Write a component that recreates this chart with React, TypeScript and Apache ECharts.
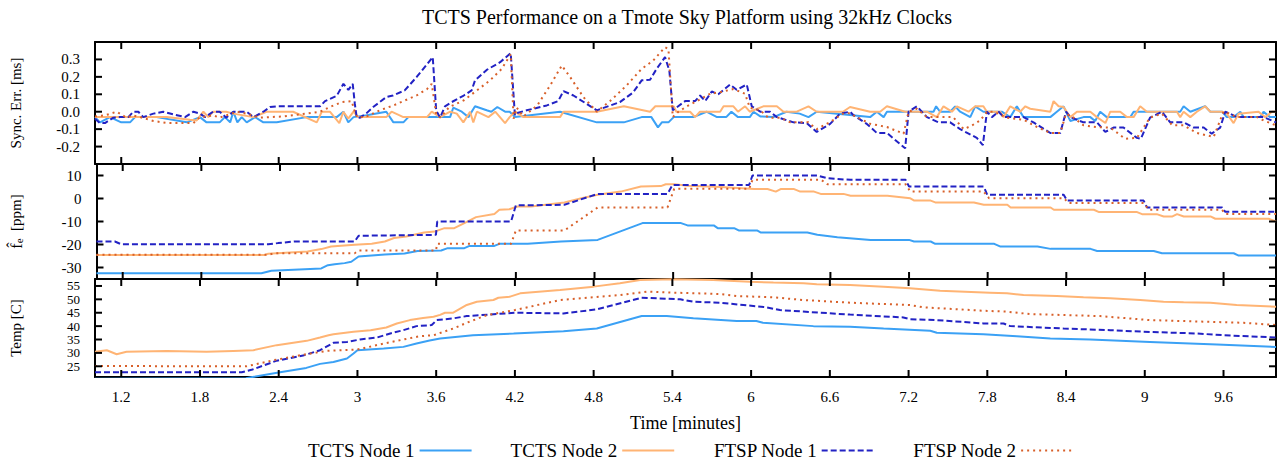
import React, { useEffect, useRef } from "react";
import * as echarts from "echarts";

type P = [number, number];

const xTicks = [1.2, 1.8, 2.4, 3, 3.6, 4.2, 4.8, 5.4, 6, 6.6, 7.2, 7.8, 8.4, 9, 9.6];
const syncTicks = [-0.2, -0.1, 0, 0.1, 0.2, 0.3];
const ppmTicks = [-30, -20, -10, 0, 10];
const tempTicks = [25, 30, 35, 40, 45, 50, 55];

const seriesNames = ["TCTS Node 1", "TCTS Node 2", "FTSP Node 1", "FTSP Node 2"];

const syncTcts1: P[] = [[1.0,-0.031],[1.038,-0.061],[1.114,-0.031],[1.2,-0.061],[1.267,-0.061],[1.305,-0.031],[1.47,-0.031],[1.7,-0.061],[1.8,-0.031],[1.85,-0.061],[1.95,-0.061],[1.99,-0.031],[2.03,-0.061],[2.054,0],[2.085,-0.061],[2.118,-0.031],[2.156,-0.061],[2.22,-0.031],[2.283,-0.061],[2.385,-0.061],[2.613,-0.031],[2.842,-0.031],[2.893,0],[2.93,-0.061],[2.97,-0.031],[3.07,-0.02],[3.22,0],[3.274,-0.061],[3.35,-0.061],[3.388,-0.031],[3.706,-0.031],[3.73,0.023],[3.795,0],[3.846,-0.031],[3.896,0.031],[3.985,0.008],[4.02,0],[4.066,0.027],[4.125,0],[4.16,0],[4.2,-0.031],[4.544,0],[4.824,-0.061],[5.03,-0.061],[5.166,-0.031],[5.24,-0.031],[5.29,-0.09],[5.32,-0.061],[5.37,-0.061],[5.41,-0.031],[5.56,-0.031],[5.66,0],[5.74,-0.031],[5.81,-0.031],[5.85,0],[5.9,-0.031],[5.99,-0.031],[6.018,0],[6.07,-0.027],[6.17,-0.031],[6.27,0],[6.37,-0.011],[6.437,-0.031],[6.5,0],[6.907,-0.031],[6.958,0],[7.01,-0.031],[7.035,0],[7.39,0],[7.41,0.031],[7.44,0],[7.517,0],[7.555,0.031],[7.593,0],[7.67,-0.031],[7.708,0.031],[7.77,0],[7.91,0],[7.975,-0.031],[8.025,0.031],[8.076,-0.031],[8.28,-0.031],[8.33,0],[8.381,0.031],[8.432,-0.053],[8.533,-0.031],[8.585,-0.031],[8.622,-0.053],[8.66,0],[8.71,-0.031],[8.89,-0.031],[8.915,0],[9.27,0],[9.296,0.031],[9.347,0],[9.46,0.031],[9.5,0],[9.59,0],[9.625,-0.031],[9.677,-0.031],[9.728,0],[9.753,-0.031],[9.88,-0.031],[9.905,0],[9.955,-0.031],[10.0,-0.031]];
const syncTcts2: P[] = [[1.0,-0.031],[1.546,-0.031],[1.724,-0.046],[1.775,-0.05],[1.826,0],[1.864,-0.031],[1.9,0],[2.0,0],[2.054,-0.011],[2.207,-0.031],[2.308,0],[2.51,0],[2.69,-0.061],[2.728,0],[2.79,0],[2.862,-0.065],[2.893,0],[2.93,-0.04],[2.97,0],[3.006,-0.031],[3.22,-0.031],[3.26,0],[3.35,-0.031],[3.53,-0.031],[3.566,0],[3.63,-0.031],[3.706,0],[3.757,-0.011],[3.807,-0.061],[3.858,0],[3.883,-0.061],[3.91,0],[3.998,-0.031],[4.05,0],[4.125,-0.065],[4.16,-0.031],[4.2,0],[4.265,-0.031],[4.544,-0.031],[4.57,0],[4.824,0],[5.03,0.031],[5.23,0],[5.27,0.031],[5.41,0.031],[5.43,0],[5.535,0],[5.573,-0.031],[5.61,0],[5.764,0],[5.79,0.031],[5.865,0.031],[5.9,0],[5.954,0.031],[5.99,0],[6.093,0.031],[6.196,0.031],[6.247,0],[6.348,0],[6.437,0.031],[6.5,0],[6.7,0],[6.754,0.027],[6.907,0],[6.983,0],[7.035,0.031],[7.174,0],[7.34,0],[7.415,-0.031],[7.466,0.031],[7.53,0],[7.568,0.031],[7.657,0],[7.708,0.031],[7.77,0.031],[7.797,0],[7.898,0],[7.924,-0.031],[7.975,0.031],[8.05,0],[8.09,0.031],[8.127,0.017],[8.28,0],[8.305,0.061],[8.343,0.031],[8.381,0.027],[8.432,-0.031],[8.483,0],[8.585,0],[8.635,-0.031],[8.7,-0.065],[8.737,0],[8.813,0],[8.864,-0.031],[8.915,-0.031],[8.965,0.031],[9.016,0],[9.245,0],[9.27,-0.031],[9.296,0],[9.347,-0.031],[9.397,0],[9.46,0.031],[9.5,0],[9.59,0],[9.625,-0.011],[9.677,-0.065],[9.715,-0.011],[9.867,0],[9.918,-0.031],[9.97,0],[10.0,0]];
const syncFtsp1: P[] = [[1.0,-0.04],[1.038,-0.065],[1.076,-0.065],[1.14,-0.034],[1.19,-0.031],[1.254,-0.031],[1.292,0],[1.33,0],[1.368,-0.031],[1.445,-0.011],[1.52,0],[1.597,-0.015],[1.686,-0.031],[1.75,0],[1.8,-0.011],[1.84,-0.031],[1.9,0],[1.95,0],[2.0,-0.034],[2.054,0],[2.156,0],[2.207,-0.031],[2.283,0],[2.334,0.027],[2.385,0.031],[2.715,0.031],[2.753,0.061],[2.842,0.091],[2.893,0.16],[2.931,0.125],[2.964,0.16],[2.98,0.046],[2.994,-0.031],[3.02,-0.034],[3.07,-0.008],[3.12,0.027],[3.22,0.084],[3.27,0.093],[3.36,0.122],[3.45,0.198],[3.574,0.313],[3.6,0.008],[3.63,-0.034],[3.667,0.031],[3.718,0.055],[3.81,0.093],[3.87,0.122],[3.896,0.18],[3.985,0.24],[4.087,0.284],[4.168,0.336],[4.2,-0.02],[4.214,-0.008],[4.29,0.008],[4.443,0.036],[4.53,0.061],[4.57,0.118],[4.646,0.093],[4.824,0.008],[5.0,0.055],[5.1,0.11],[5.166,0.18],[5.23,0.183],[5.28,0.246],[5.344,0.313],[5.377,0.236],[5.403,0.008],[5.43,0.023],[5.497,0.061],[5.573,0.061],[5.611,0.093],[5.65,0.061],[5.7,0.116],[5.75,0.1],[5.84,0.156],[5.89,0.126],[5.967,0.156],[6.005,0.031],[6.07,0],[6.145,0],[6.196,-0.031],[6.323,-0.061],[6.424,-0.065],[6.5,-0.116],[6.602,-0.07],[6.678,-0.011],[6.754,0],[6.78,-0.02],[6.882,-0.07],[6.958,-0.122],[7.035,-0.122],[7.174,-0.21],[7.2,0],[7.263,0.031],[7.34,-0.031],[7.428,-0.061],[7.517,-0.061],[7.593,-0.1],[7.72,-0.15],[7.766,-0.192],[7.797,0],[7.835,-0.031],[7.886,0],[7.924,-0.031],[8.076,-0.031],[8.152,-0.061],[8.28,-0.122],[8.356,-0.122],[8.4,0],[8.432,-0.031],[8.533,-0.061],[8.635,-0.061],[8.699,-0.116],[8.762,-0.091],[8.838,-0.091],[8.94,-0.15],[8.97,-0.155],[9.04,-0.034],[9.13,0],[9.194,-0.061],[9.296,-0.061],[9.372,-0.091],[9.449,-0.091],[9.51,-0.126],[9.575,-0.091],[9.613,0],[9.65,-0.011],[9.7,-0.031],[9.905,-0.031],[10.0,-0.061]];
const syncFtsp2: P[] = [[1.0,-0.027],[1.076,-0.021],[1.165,0],[1.24,-0.034],[1.29,-0.021],[1.343,-0.031],[1.445,-0.053],[1.546,-0.065],[1.75,-0.065],[1.8,-0.031],[1.9,-0.021],[1.95,-0.034],[2.0,-0.021],[2.08,0],[2.156,-0.011],[2.258,-0.034],[2.435,-0.027],[2.613,-0.011],[2.715,0],[2.79,0.027],[2.88,0.055],[2.956,0.061],[2.98,-0.002],[3.0,-0.034],[3.07,-0.027],[3.17,0.008],[3.274,0.036],[3.363,0.065],[3.45,0.093],[3.53,0.13],[3.566,0.16],[3.6,-0.011],[3.63,-0.034],[3.7,0.027],[3.81,0.065],[3.91,0.122],[4.01,0.18],[4.1,0.246],[4.168,0.33],[4.19,-0.04],[4.214,0.023],[4.265,-0.027],[4.37,0.036],[4.468,0.15],[4.557,0.265],[4.62,0.2],[4.722,0.084],[4.824,0],[4.925,0.061],[5.05,0.15],[5.166,0.246],[5.255,0.294],[5.344,0.37],[5.37,0.36],[5.403,-0.031],[5.446,0],[5.51,0.031],[5.586,0.061],[5.688,0.103],[5.764,0.112],[5.865,0.13],[5.954,0.103],[5.99,0.023],[6.07,0.008],[6.13,-0.034],[6.22,-0.034],[6.3,-0.061],[6.437,-0.061],[6.5,-0.1],[6.602,-0.059],[6.7,-0.011],[6.754,-0.008],[6.78,-0.021],[6.907,-0.069],[7.035,-0.088],[7.162,-0.126],[7.2,0],[7.263,0.017],[7.34,-0.031],[7.54,-0.031],[7.62,-0.1],[7.68,-0.08],[7.746,-0.05],[7.797,0],[7.85,0],[7.95,-0.034],[8.076,-0.046],[8.18,-0.088],[8.28,-0.122],[8.356,-0.122],[8.4,-0.011],[8.458,-0.034],[8.533,-0.078],[8.635,-0.088],[8.737,-0.091],[8.85,-0.155],[8.94,-0.15],[9.04,-0.034],[9.13,-0.011],[9.21,-0.078],[9.296,-0.078],[9.397,-0.122],[9.525,-0.145],[9.6,0],[9.65,-0.011],[9.7,-0.031],[9.855,-0.031],[9.905,-0.05],[10.0,-0.078]];

const ppmTcts1: P[] = [[1.0,-32.5],[2.258,-32.5],[2.334,-31.4],[2.715,-30.4],[2.766,-29],[2.817,-28.6],[2.893,-28.1],[2.944,-27.5],[3.0,-25.2],[3.2,-24.3],[3.35,-23.9],[3.45,-22.8],[3.63,-22.6],[3.68,-21.6],[3.807,-21.6],[3.846,-20.6],[4.036,-20.6],[4.074,-19.7],[4.29,-19.7],[4.544,-18.7],[4.824,-18],[5.166,-10.7],[5.46,-10.7],[5.51,-11.7],[5.71,-11.7],[5.74,-12.9],[5.865,-12.9],[5.9,-13.9],[6.04,-13.9],[6.07,-14.8],[6.424,-14.8],[6.5,-15.8],[6.653,-16.8],[6.907,-18],[7.2,-18],[7.238,-18.7],[7.365,-18.7],[7.4,-19.7],[7.85,-19.7],[7.898,-20.9],[8.18,-20.9],[8.28,-21.9],[8.585,-21.9],[8.635,-22.8],[9.067,-22.8],[9.13,-23.8],[9.677,-23.8],[9.715,-24.8],[10.0,-24.8]];
const ppmTcts2: P[] = [[1.0,-24.6],[2.28,-24.6],[2.31,-24],[2.61,-23],[2.715,-22],[2.79,-20.9],[2.97,-20.1],[3.1,-19.7],[3.2,-18.7],[3.27,-17.2],[3.363,-16.5],[3.5,-14.8],[3.58,-14.4],[3.655,-12.9],[3.73,-12.9],[3.807,-10.7],[3.896,-8.1],[4.036,-6.7],[4.074,-4.9],[4.15,-4.7],[4.214,-3.5],[4.315,-3.5],[4.57,-1.7],[4.7,0.1],[4.824,1.6],[5.0,3.0],[5.154,5.2],[5.306,5.4],[5.344,6.2],[5.41,6.2],[5.51,5.5],[5.764,5.0],[6.018,4.1],[6.12,4.1],[6.183,3.0],[6.22,4.1],[6.323,4.1],[6.37,3.0],[6.475,3.0],[6.526,2.0],[6.7,2.0],[6.754,1.2],[7.035,1.2],[7.21,0.1],[7.24,-0.9],[7.365,-0.9],[7.4,-1.7],[7.695,-1.7],[7.77,-2.75],[7.95,-2.75],[7.975,-3.9],[8.28,-3.9],[8.305,-4.9],[8.61,-4.9],[8.65,-5.9],[8.94,-5.9],[8.978,-6.8],[9.09,-6.8],[9.143,-7.8],[9.21,-7.8],[9.245,-6.8],[9.296,-7.8],[9.5,-7.8],[9.537,-8.8],[9.944,-8.8],[10.0,-10]];
const ppmFtsp1: P[] = [[1.0,-18.7],[1.14,-18.7],[1.19,-19.9],[2.31,-19.9],[2.385,-19.4],[2.51,-18.7],[2.97,-18.7],[3.0,-16.2],[3.59,-15.8],[3.6,-10],[4.163,-10],[4.2,-3.0],[4.57,-2.75],[4.824,2.0],[5.357,2.0],[5.395,5.9],[5.98,5.9],[6.005,10],[6.5,10],[6.577,8.8],[6.754,8.1],[7.174,8.1],[7.2,5.2],[7.77,5.2],[7.797,1.6],[8.38,1.6],[8.406,-0.9],[8.99,-0.9],[9.016,-3.9],[9.588,-3.9],[9.613,-5.8],[10.0,-5.8]];
const ppmFtsp2: P[] = [[1.0,-24.5],[2.31,-24.5],[2.36,-23.8],[2.97,-23.8],[3.0,-22.6],[3.59,-22.6],[3.6,-19.7],[4.163,-19.7],[4.2,-13.9],[4.57,-13.9],[4.824,-3.9],[5.357,-3.9],[5.408,4.2],[5.98,4.2],[6.005,8.1],[6.53,8.1],[6.577,6.2],[7.174,6.2],[7.21,3.0],[7.77,3.0],[7.81,0.15],[8.38,0.15],[8.42,-2.0],[8.99,-2.0],[9.03,-4.9],[9.588,-4.9],[9.613,-6.7],[10.0,-6.7]];

const tempTcts1: P[] = [[1.0,20.3],[2.15,20.5],[2.2,21],[2.41,22.75],[2.61,24.4],[2.715,25.9],[2.817,26.6],[2.92,27.9],[2.97,29.75],[3.0,31],[3.2,31.6],[3.35,32.25],[3.45,33.5],[3.55,34.6],[3.63,35.4],[3.88,36.6],[4.19,37.25],[4.57,38.1],[4.824,39.1],[5.166,43.75],[5.357,43.75],[5.56,42.9],[5.71,42.5],[5.89,41.9],[6.04,41.9],[6.09,41.25],[6.475,40],[6.754,39.75],[7.01,39.1],[7.365,38.25],[7.415,37.5],[7.77,37],[8.025,36.25],[8.28,35.4],[8.585,35],[9.04,34.1],[9.55,33.1],[10.0,32.25]];
const tempTcts2: P[] = [[1.0,30.4],[1.09,31],[1.165,29.5],[1.24,30.4],[1.546,30.75],[1.85,30.4],[2.054,30.75],[2.207,31],[2.385,32.9],[2.613,34.5],[2.715,35.75],[2.78,36.6],[2.817,37],[2.97,37.9],[3.1,38.5],[3.22,39.5],[3.3,41],[3.4,42.25],[3.5,43],[3.58,43.5],[3.63,44.2],[3.667,45],[3.73,45],[3.833,47.9],[3.91,49.1],[4.036,49.75],[4.074,50.6],[4.163,51],[4.24,52.25],[4.544,53.5],[4.8,54.75],[5.0,56],[5.154,57.25],[5.41,57.5],[5.71,57.25],[5.99,56.6],[6.17,56.25],[6.4,56],[6.5,55.6],[6.754,55.4],[7.01,54.75],[7.21,54.1],[7.44,53.25],[7.82,52.5],[7.95,52.25],[8.076,51.6],[8.33,51.25],[8.533,50.75],[8.737,50.4],[8.965,49.75],[9.143,49.1],[9.296,48.9],[9.5,48.75],[9.7,47.9],[10.0,47.25]];
const tempFtsp1: P[] = [[1.0,22.75],[2.118,22.75],[2.2,23.8],[2.385,27.1],[2.585,29],[2.715,31],[2.817,33.75],[2.92,34.1],[3.02,35],[3.15,35.75],[3.25,37.25],[3.35,38.5],[3.45,40],[3.566,40.4],[3.604,42.25],[3.73,42.9],[3.833,43.75],[4.2,45],[4.57,44.75],[4.824,46.25],[5.166,50.6],[5.46,50],[5.56,49.1],[5.764,48.75],[6.12,47],[6.22,46],[6.754,44.3],[7.16,43.25],[7.21,42.6],[7.415,42.25],[7.77,41],[7.924,41],[7.975,40],[8.381,39.1],[8.737,38.5],[8.99,37.9],[9.397,37.25],[9.6,36.6],[10.0,35.75]];
const tempFtsp2: P[] = [[1.0,25.1],[2.156,25],[2.36,27.25],[2.56,29.1],[2.766,30.75],[3.0,31.25],[3.2,33.5],[3.35,35],[3.477,36.25],[3.58,36.6],[3.73,39.1],[3.833,41.25],[3.985,44.1],[4.2,46],[4.544,49.75],[5.0,51.6],[5.205,52.9],[5.41,52.5],[5.764,52],[5.89,51.25],[6.17,50.75],[6.4,49.75],[6.754,48.75],[7.01,48.25],[7.21,47.9],[7.314,47],[7.77,45.75],[7.95,45.4],[8.127,44.5],[8.66,43.75],[9.04,42.25],[9.5,41.6],[9.753,41.25],[10.0,40.4]];

const FONT = "Liberation Serif";
const colors = ["#3ba1f5", "#ffb474", "#2222c4", "#d8602a"];
const lineTypes: any[] = ["solid", "solid", [6, 3], [2, 4]];
const TICK = 7;

export default function App() {
  const ref = useRef<HTMLDivElement>(null);
  useEffect(() => {
    if (!ref.current) return;
    const chart = echarts.init(ref.current, null, { renderer: "svg" });

    const grids = [
      { left: 95, right: 7, top: 42, height: 122 },
      { left: 95, right: 7, top: 164, height: 115 },
      { left: 95, right: 7, top: 279, height: 98 },
    ];

    const lineSt = { color: "#000", width: 2 };
    const fmtX = (v: number) => String(Number(v.toFixed(1)));
    const labelBase = { color: "#000", fontFamily: FONT, fontSize: 15 };

    const xAxis: any[] = [];
    for (let i = 0; i < 3; i++) {
      for (const pos of ["bottom", "top"]) {
        const showLabel = i === 2 && pos === "bottom";
        xAxis.push({
          type: "value",
          gridIndex: i,
          position: pos,
          min: 1,
          max: 10,
          axisLine: { show: true, onZero: false, lineStyle: lineSt },
          splitLine: { show: false },
          axisTick: { show: false },
          axisLabel: { show: showLabel, customValues: xTicks, formatter: fmtX, margin: 12, ...labelBase },
          ...(showLabel
            ? {
                name: "Time [minutes]",
                nameLocation: "middle",
                nameGap: 37,
                nameTextStyle: { color: "#000", fontFamily: FONT, fontSize: 18 },
              }
            : {}),
        });
      }
    }

    const nameStyle = {
      color: "#000",
      fontFamily: FONT,
      fontSize: 15,
      rich: {
        f: { fontFamily: FONT, fontSize: 16, color: "#000" },
        sub: { fontFamily: FONT, fontSize: 11, color: "#000", verticalAlign: "bottom", padding: [6, 0, 0, 0] },
      },
    };
    const yDefs = [
      { min: -0.3, max: 0.4, ticks: syncTicks, fmt: (v: number) => v.toFixed(1), name: "Sync. Err. [ms]" },
      { min: -35, max: 15, ticks: ppmTicks, fmt: (v: number) => String(Math.round(v)), name: "{f|f\u0302}{sub|e}  [ppm]" },
      { min: 21, max: 57.6, ticks: tempTicks, fmt: (v: number) => String(Math.round(v)), name: "Temp [C]" },
    ];
    const yAxis: any[] = [];
    yDefs.forEach((d, i) => {
      const split = i === 2;
      const labelValues = split ? d.ticks.filter((_, k) => k % 2 === 0) : d.ticks;
      yAxis.push({
        type: "value",
        gridIndex: i,
        position: "left",
        offset: 0,
        min: d.min,
        max: d.max,
        axisLine: { show: true, onZero: false, lineStyle: lineSt },
        splitLine: { show: false },
        axisTick: { show: false },
        axisLabel: {
          customValues: labelValues,
          formatter: d.fmt,
          margin: 15,
          ...labelBase,
          ...(split ? { fontSize: 13, lineHeight: 12 } : {}),
          showMinLabel: true,
          showMaxLabel: true,
        },
        name: d.name,
        nameLocation: "middle",
        nameRotate: 90,
        nameGap: 72,
        nameTextStyle: nameStyle,
      });
      yAxis.push({
        type: "value",
        gridIndex: i,
        position: "right",
        offset: 0,
        min: d.min,
        max: d.max,
        axisLine: { show: true, onZero: false, lineStyle: lineSt },
        splitLine: { show: false },
        axisTick: { show: false },
        axisLabel: { show: false },
      });
    });
    yAxis.push({
      type: "value",
      gridIndex: 2,
      position: "left",
      offset: 0,
      min: yDefs[2].min,
      max: yDefs[2].max,
      axisLine: { show: false, onZero: false },
      splitLine: { show: false },
      axisTick: { show: false },
      axisLabel: {
        customValues: tempTicks.filter((_, k) => k % 2 === 1),
        formatter: yDefs[2].fmt,
        margin: 15,
        ...labelBase,
        fontSize: 13,
        lineHeight: 12,
        showMinLabel: true,
        showMaxLabel: true,
      },
    });

    const panels: P[][][] = [
      [syncTcts1, syncTcts2, syncFtsp1, syncFtsp2],
      [ppmTcts1, ppmTcts2, ppmFtsp1, ppmFtsp2],
      [tempTcts1, tempTcts2, tempFtsp1, tempFtsp2],
    ];
    const series: any[] = [];
    panels.forEach((list, gi) => {
      list.forEach((data, si) => {
        series.push({
          type: "line",
          name: seriesNames[si],
          xAxisIndex: gi * 2,
          yAxisIndex: gi * 2,
          data,
          symbol: "none",
          showSymbol: false,
          clip: true,
          z: 2 + si,
          lineStyle: { color: colors[si], width: 2, type: lineTypes[si] },
          itemStyle: { color: colors[si] },
        });
      });
    });

    chart.setOption({
      animation: false,
      textStyle: { fontFamily: FONT },
      title: {
        text: "TCTS Performance on a Tmote Sky Platform using 32kHz Clocks",
        left: 682,
        textAlign: "center",
        top: 2,
        textStyle: { fontFamily: FONT, fontSize: 20, fontWeight: "normal", color: "#000" },
      },
      legend: {
        data: seriesNames,
        top: 436,
        left: 303,
        align: "right",
        itemWidth: 52,
        itemHeight: 12,
        itemGap: 38,
        itemStyle: { opacity: 0, borderWidth: 0 },
        textStyle: { fontFamily: FONT, fontSize: 19, color: "#000" },
      },
      grid: grids,
      xAxis,
      yAxis,
      series,
    });

    // tick marks placed through the axes' own scales
    const tickLine = (x1: number, y1: number, x2: number, y2: number) => ({
      type: "line",
      silent: true,
      z: 100,
      shape: { x1, y1, x2, y2 },
      style: { stroke: "#000", lineWidth: 2 },
    });
    const graphic: any[] = [];
    try {
      yDefs.forEach((d, gi) => {
        const xi = { xAxisIndex: gi * 2 };
        const yi = { yAxisIndex: gi * 2 };
        const left = chart.convertToPixel(xi, 1) as number;
        const right = chart.convertToPixel(xi, 10) as number;
        const top = chart.convertToPixel(yi, d.max) as number;
        const bottom = chart.convertToPixel(yi, d.min) as number;
        xTicks.forEach((v) => {
          const px = chart.convertToPixel(xi, v) as number;
          if (typeof px !== "number" || isNaN(px)) return;
          graphic.push(tickLine(px, top, px, top + TICK));
          graphic.push(tickLine(px, bottom, px, bottom - TICK));
        });
        d.ticks.forEach((v) => {
          const py = chart.convertToPixel(yi, v) as number;
          if (typeof py !== "number" || isNaN(py)) return;
          graphic.push(tickLine(left, py, left + TICK, py));
          graphic.push(tickLine(right, py, right - TICK, py));
        });
      });
      if (graphic.length) chart.setOption({ graphic });
    } catch (e) {
      // leave chart without extra tick marks
    }
    return () => chart.dispose();
  }, []);
  return <div ref={ref} style={{ position: "absolute", left: 0, top: 0, width: 1283, height: 460 }} />;
}
